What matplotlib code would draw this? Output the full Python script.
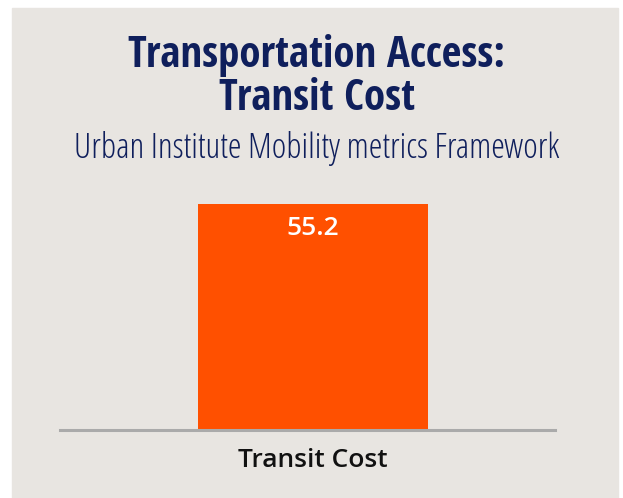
import matplotlib.pyplot as plt
from matplotlib.patches import Rectangle

categories = ["Transit Cost"]
values = [55.2]

title = "Transportation Access:\nTransit Cost"
subtitle = "Urban Institute Mobility metrics Framework"

bg = "#e8e5e1"
navy = "#0f1f5c"
orange = "#ff5000"

W, H = 623, 498
fig = plt.figure(figsize=(W / 100, H / 100), dpi=100, facecolor="white")

# panel background with a thin white margin
fig.patches.append(Rectangle((12 / W, 0), (618 - 12) / W, (H - 8) / H,
                             transform=fig.transFigure, color=bg, zorder=-1))

# axes box: x 60..555 px, baseline at y=430 px
ymax = 60
bar_h = 226
ax_h = bar_h * ymax / values[0]
ax = fig.add_axes([60 / W, (H - 430) / H, 495 / W, ax_h / H])
ax.set_zorder(2)
ax.set_facecolor("none")

ax.bar(categories, values, width=1, color=orange)
ax.set_xlim(-1.104, 1.056)
ax.set_ylim(0, ymax)

for i, v in enumerate(values):
    ax.text(i, v - 3.0, f"{v}", ha="center", va="top", color="white",
            fontsize=19, fontweight="semibold", family="Open Sans")

for s in ["top", "right", "left"]:
    ax.spines[s].set_visible(False)
ax.spines["bottom"].set_color("#aaaaaa")
ax.spines["bottom"].set_linewidth(2.2)
ax.set_yticks([])
ax.tick_params(axis="x", length=0, pad=13)
for lab in ax.get_xticklabels():
    lab.set_fontsize(19)
    lab.set_fontweight("semibold")
    lab.set_family("Open Sans")
    lab.set_color("#111111")

fig.text(317 / W, 1 - 77 / H, title, ha="center", va="center", color=navy,
         fontsize=31, fontweight="bold", family="Open Sans Condensed",
         linespacing=1.0)
fig.text(317 / W, 1 - 148 / H, subtitle, ha="center", va="center", color=navy,
         fontsize=25, family="Open Sans", fontstretch="condensed",
         fontweight="light")

fig.savefig("out.png", dpi=100, facecolor="white")
